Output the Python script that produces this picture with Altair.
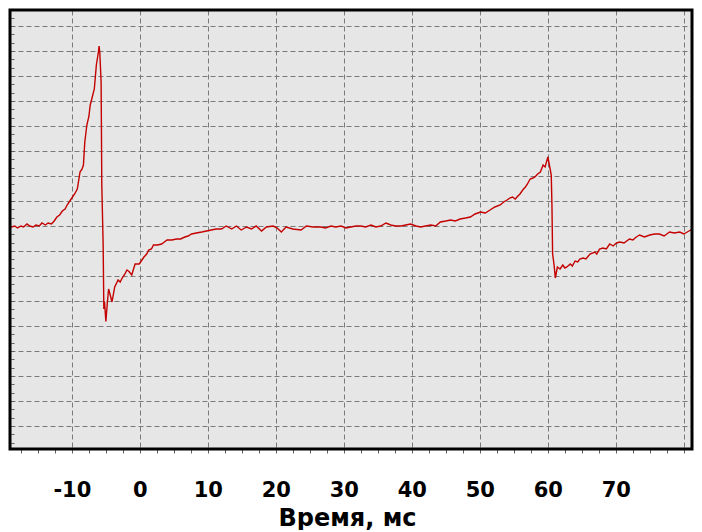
import altair as alt
import pandas as pd

time_ms = [
    -19.8, -19.3, -18.9, -18.4, -18.0, -17.5, -17.1, -16.6, -16.2, -15.7, -15.3, -14.8,
    -14.4, -13.9, -13.5, -13.0, -12.6, -12.2, -11.8, -11.4, -11.0, -10.7, -10.3, -10.0,
    -9.6, -9.2, -8.8, -8.5, -8.3, -8.1, -7.8, -7.5, -7.3, -7.0, -6.7, -6.4, -6.1, -6.0,
    -5.9, -5.7, -5.6, -5.4, -5.3, -5.2, -5.0, -4.8, -4.6, -4.4, -4.1, -3.7, -3.2, -2.9,
    -2.6, -2.2, -1.9, -1.6, -1.2, -0.7, -0.1, 0.3, 0.6, 1.0, 1.3, 1.7, 2.0, 2.6, 3.2,
    3.6, 4.0, 4.7, 5.4, 6.0, 6.6, 7.1, 7.6, 8.3, 9.1, 9.8, 10.5, 11.2, 12.0, 12.7, 13.5,
    14.2, 14.9, 15.7, 16.4, 17.1, 17.9, 18.6, 19.6, 20.2, 20.8, 21.5, 22.5, 23.7, 24.5,
    25.5, 26.6, 27.3, 28.1, 28.8, 29.6, 30.3, 31.0, 31.8, 32.5, 33.2, 34.0, 34.7, 35.4,
    36.2, 36.9, 37.6, 38.4, 39.1, 39.8, 40.6, 41.3, 42.0, 42.8, 43.5, 44.2, 45.0, 45.7,
    46.4, 47.1, 47.9, 48.6, 49.3, 50.1, 50.8, 51.5, 52.2, 53.0, 53.5, 54.0, 54.4, 54.8,
    55.2, 55.6, 55.9, 56.3, 56.7, 57.0, 57.4, 57.8, 58.1, 58.5, 58.9, 59.3, 59.6, 60.0,
    60.2, 60.5, 60.6, 60.7, 60.9, 61.1, 61.4, 61.8, 62.2, 62.5, 62.8, 63.3, 63.6, 64.0,
    64.4, 64.7, 65.2, 65.6, 66.2, 66.9, 67.2, 67.6, 68.1, 68.6, 69.1, 69.6, 70.1, 70.6,
    71.2, 72.0, 72.5, 73.0, 73.5, 74.2, 75.0, 75.7, 76.4, 77.1, 77.9, 78.6, 79.4, 80.0,
    80.5, 81.0, 81.6,
]

signal = [
    9.08, 9.16, 9.08, 9.12, 9.04, 9.12, 9.08, 9.20, 9.12, 9.08, 9.16, 9.12,
    9.24, 9.16, 9.24, 9.20, 9.32, 9.48, 9.56, 9.72, 9.80, 9.96, 10.12, 10.24,
    10.40, 10.60, 11.28, 11.40, 11.56, 12.48, 13.16, 13.50, 13.96, 14.28, 14.60, 15.56, 16.08, 16.32,
    16.08, 14.88, 10.76, 8.36, 5.80, 6.10, 5.30, 6.00, 6.60, 6.40, 6.08, 6.68, 6.96, 6.88,
    7.04, 7.20, 7.36, 7.30, 7.16, 7.60, 7.60, 7.76, 7.88, 8.00, 8.16, 8.20, 8.36, 8.36, 8.40,
    8.48, 8.56, 8.56, 8.60, 8.60, 8.68, 8.72, 8.80, 8.84, 8.88, 8.92, 8.96, 9.00, 9.00, 9.12, 9.00,
    9.12, 8.96, 9.08, 9.00, 9.12, 8.92, 9.08, 9.12, 9.04, 8.88, 9.08, 9.00, 8.96, 9.12,
    9.08, 9.08, 9.04, 9.12, 9.08, 9.12, 9.04, 9.08, 9.12, 9.12, 9.08, 9.16, 9.08, 9.12,
    9.24, 9.16, 9.12, 9.12, 9.16, 9.20, 9.12, 9.08, 9.12, 9.16, 9.12, 9.28, 9.32, 9.36,
    9.32, 9.40, 9.44, 9.48, 9.60, 9.68, 9.64, 9.76, 9.88, 9.96, 10.08, 10.16, 10.24, 10.28,
    10.20, 10.32, 10.40, 10.56, 10.68, 10.80, 11.00, 11.04, 11.08, 11.20, 11.28, 11.56, 11.48, 11.88,
    11.60, 11.16, 10.00, 8.00, 7.60, 7.04, 7.48, 7.40, 7.56, 7.44, 7.48, 7.60, 7.52, 7.72,
    7.68, 7.80, 7.84, 7.80, 8.00, 8.08, 8.00, 8.20, 8.24, 8.20, 8.40, 8.32, 8.44, 8.48,
    8.44, 8.60, 8.56, 8.68, 8.76, 8.68, 8.76, 8.80, 8.80, 8.72, 8.88, 8.84, 8.88, 8.80,
    8.88, 8.96, 9.04,
]

df = pd.DataFrame({"t": time_ms, "v": signal})

W, H = 682, 439
FONT = "DejaVu Sans"

x_ticks = [round(-17.5 + 2.5 * k, 2) for k in range(40)]
y_ticks = [round(1.12 - 2 / 3 + k / 3, 4) for k in range(52)]

x_axis = alt.Axis(
    values=x_ticks,
    domain=False,
    grid=True,
    gridColor="#7a7a7a",
    gridDash=[5, 3],
    gridWidth=1,
    gridOpacity={"condition": {"test": "abs(datum.value % 10) < 0.001", "value": 1}, "value": 0},
    ticks=True,
    tickSize=4,
    tickColor="#606060",
    labelExpr="abs(datum.value % 10) < 0.001 && datum.value < 75 ? toString(datum.value) : ''",
    labelFont=FONT,
    labelFontWeight="bold",
    labelFontSize=21,
    labelColor="black",
    labelPadding=26,
    labelOverlap=False,
    labelFlush=False,
    title="Время, мс",
    titleFont=FONT,
    titleFontSize=24,
    titleFontWeight="bold",
    titleColor="black",
    titleBaseline="alphabetic",
    titleAlign="center",
    titleX=337,
    titleY=76,
)

y_axis = alt.Axis(
    values=y_ticks,
    orient="left",
    offset=-4,
    domain=False,
    labels=False,
    grid=True,
    gridColor="#7a7a7a",
    gridDash=[5, 3],
    gridWidth=1,
    gridOpacity={"condition": {"test": "abs(datum.value - 1.12 - round(datum.value - 1.12)) < 0.01", "value": 1}, "value": 0},
    ticks=True,
    tickSize=3,
    tickColor="#606060",
    title=None,
)

line = alt.Chart(df).mark_line(color="#c40000", strokeWidth=1.4, clip=True).encode(
    x=alt.X("t:Q", scale=alt.Scale(domain=[-19.1, 81.2], nice=False, zero=False), axis=x_axis),
    y=alt.Y("v:Q", scale=alt.Scale(domain=[0.2, 17.76], nice=False, zero=False), axis=y_axis),
)

frame = alt.Chart(pd.DataFrame({"a": [0]})).mark_rect(
    fill=None, stroke="black", strokeWidth=3
).encode(
    x=alt.value(0), x2=alt.value(W), y=alt.value(0), y2=alt.value(H)
)

chart = alt.layer(line, frame).properties(
    width=W,
    height=H,
    padding={"left": 2, "top": 2, "right": 2, "bottom": 81},
    autosize=alt.AutoSizeParams(type="none"),
    background="white",
).configure_view(fill="#e6e6e6", stroke=None)

chart.save("out.html", embed_options={"renderer": "svg", "actions": False})
